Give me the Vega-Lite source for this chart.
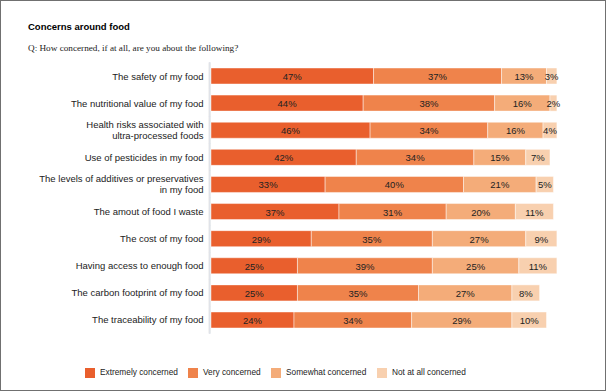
{
  "$schema": "https://vega.github.io/schema/vega-lite/v6.json",
  "width": 606,
  "height": 391,
  "autosize": {"type": "fit", "contains": "padding"},
  "padding": 0,
  "background": "white",
  "config": {
    "view": {"stroke": "#707070", "strokeWidth": 2},
    "font": "Liberation Sans"
  },
  "title": {
    "text": "Concerns around food",
    "subtitle": "Q: How concerned, if at all, are you about the following?",
    "anchor": "start",
    "frame": "group",
    "orient": "top",
    "offset": -53,
    "dx": 28,
    "font": "Liberation Sans",
    "fontSize": 9.5,
    "fontWeight": "bold",
    "color": "#000000",
    "subtitleFont": "Liberation Serif",
    "subtitleFontSize": 9.2,
    "subtitleColor": "#222222",
    "subtitlePadding": 12
  },
  "data": {
    "values": [
      {"label": "The safety of my food", "category": "Extremely concerned", "order": 1, "value": 0.47},
      {"label": "The safety of my food", "category": "Very concerned", "order": 2, "value": 0.37},
      {"label": "The safety of my food", "category": "Somewhat concerned", "order": 3, "value": 0.13},
      {"label": "The safety of my food", "category": "Not at all concerned", "order": 4, "value": 0.03},
      {"label": "The nutritional value of my food", "category": "Extremely concerned", "order": 1, "value": 0.44},
      {"label": "The nutritional value of my food", "category": "Very concerned", "order": 2, "value": 0.38},
      {"label": "The nutritional value of my food", "category": "Somewhat concerned", "order": 3, "value": 0.16},
      {"label": "The nutritional value of my food", "category": "Not at all concerned", "order": 4, "value": 0.02},
      {"label": "Health risks associated with ultra-processed foods", "category": "Extremely concerned", "order": 1, "value": 0.46},
      {"label": "Health risks associated with ultra-processed foods", "category": "Very concerned", "order": 2, "value": 0.34},
      {"label": "Health risks associated with ultra-processed foods", "category": "Somewhat concerned", "order": 3, "value": 0.16},
      {"label": "Health risks associated with ultra-processed foods", "category": "Not at all concerned", "order": 4, "value": 0.04},
      {"label": "Use of pesticides in my food", "category": "Extremely concerned", "order": 1, "value": 0.42},
      {"label": "Use of pesticides in my food", "category": "Very concerned", "order": 2, "value": 0.34},
      {"label": "Use of pesticides in my food", "category": "Somewhat concerned", "order": 3, "value": 0.15},
      {"label": "Use of pesticides in my food", "category": "Not at all concerned", "order": 4, "value": 0.07},
      {"label": "The levels of additives or preservatives in my food", "category": "Extremely concerned", "order": 1, "value": 0.33},
      {"label": "The levels of additives or preservatives in my food", "category": "Very concerned", "order": 2, "value": 0.40},
      {"label": "The levels of additives or preservatives in my food", "category": "Somewhat concerned", "order": 3, "value": 0.21},
      {"label": "The levels of additives or preservatives in my food", "category": "Not at all concerned", "order": 4, "value": 0.05},
      {"label": "The amout of food I waste", "category": "Extremely concerned", "order": 1, "value": 0.37},
      {"label": "The amout of food I waste", "category": "Very concerned", "order": 2, "value": 0.31},
      {"label": "The amout of food I waste", "category": "Somewhat concerned", "order": 3, "value": 0.20},
      {"label": "The amout of food I waste", "category": "Not at all concerned", "order": 4, "value": 0.11},
      {"label": "The cost of my food", "category": "Extremely concerned", "order": 1, "value": 0.29},
      {"label": "The cost of my food", "category": "Very concerned", "order": 2, "value": 0.35},
      {"label": "The cost of my food", "category": "Somewhat concerned", "order": 3, "value": 0.27},
      {"label": "The cost of my food", "category": "Not at all concerned", "order": 4, "value": 0.09},
      {"label": "Having access to enough food", "category": "Extremely concerned", "order": 1, "value": 0.25},
      {"label": "Having access to enough food", "category": "Very concerned", "order": 2, "value": 0.39},
      {"label": "Having access to enough food", "category": "Somewhat concerned", "order": 3, "value": 0.25},
      {"label": "Having access to enough food", "category": "Not at all concerned", "order": 4, "value": 0.11},
      {"label": "The carbon footprint of my food", "category": "Extremely concerned", "order": 1, "value": 0.25},
      {"label": "The carbon footprint of my food", "category": "Very concerned", "order": 2, "value": 0.35},
      {"label": "The carbon footprint of my food", "category": "Somewhat concerned", "order": 3, "value": 0.27},
      {"label": "The carbon footprint of my food", "category": "Not at all concerned", "order": 4, "value": 0.08},
      {"label": "The traceability of my food", "category": "Extremely concerned", "order": 1, "value": 0.24},
      {"label": "The traceability of my food", "category": "Very concerned", "order": 2, "value": 0.34},
      {"label": "The traceability of my food", "category": "Somewhat concerned", "order": 3, "value": 0.29},
      {"label": "The traceability of my food", "category": "Not at all concerned", "order": 4, "value": 0.10}
    ]
  },
  "encoding": {
    "y": {
      "field": "label",
      "type": "nominal",
      "sort": null,
      "scale": {"range": [62.45, 333.55], "paddingInner": 0.41, "paddingOuter": 0.205},
      "axis": {
        "title": null,
        "orient": "left",
        "offset": -211,
        "domain": false,
        "ticks": false,
        "grid": false,
        "labelPadding": 8,
        "labelFont": "Liberation Sans",
        "labelFontSize": 9.5,
        "labelColor": "#222222",
        "labelLimit": 0,
        "labelLineHeight": 11.5,
        "labelOffset": {"condition": {"test": "indexof(datum.value, 'ultra-processed') >= 0 || indexof(datum.value, 'additives') >= 0", "value": -5.5}, "value": 0.5},
        "labelExpr": "datum.value == 'Health risks associated with ultra-processed foods' ? ['Health risks associated with', 'ultra-processed foods'] : datum.value == 'The levels of additives or preservatives in my food' ? ['The levels of additives or preservatives', 'in my food'] : datum.value"
      }
    }
  },
  "layer": [
    {
      "mark": {"type": "tick", "color": "#dfe2e8", "thickness": 1.5, "size": 27.3},
      "encoding": {
        "x": {"datum": -0.004, "type": "quantitative", "scale": {"domain": [-0.61, 1.142], "nice": false, "zero": false}, "axis": null}
      }
    },
    {
      "mark": {"type": "bar", "stroke": "#ffffff", "strokeOpacity": 0.45, "strokeWidth": 1},
      "encoding": {
        "x": {"field": "value", "type": "quantitative", "stack": "zero", "axis": null},
        "order": {"field": "order", "type": "quantitative"},
        "color": {
          "field": "category",
          "type": "nominal",
          "scale": {
            "domain": ["Extremely concerned", "Very concerned", "Somewhat concerned", "Not at all concerned"],
            "range": ["#e95f2d", "#ef834b", "#f4ac79", "#f8d0af"]
          },
          "legend": {
            "title": null,
            "orient": "none",
            "direction": "horizontal",
            "legendX": 85,
            "legendY": 368,
            "symbolType": "square",
            "symbolSize": 100,
            "symbolStrokeWidth": 0,
            "symbolOpacity": 1,
            "labelFont": "Liberation Sans",
            "labelFontSize": 8.3,
            "labelColor": "#222222",
            "labelOffset": 5,
            "columnPadding": 10
          }
        }
      }
    },
    {
      "transform": [
        {"stack": "value", "groupby": ["label"], "sort": [{"field": "order", "order": "ascending"}], "as": ["v0", "v1"]},
        {"fold": ["v0", "v1"], "as": ["edge", "pos"]},
        {"aggregate": [{"op": "mean", "field": "pos", "as": "mid"}], "groupby": ["label", "category", "value"]}
      ],
      "mark": {"type": "text", "font": "Liberation Sans", "fontSize": 9.5, "color": "#222222", "baseline": "middle", "dy": 1},
      "encoding": {
        "x": {"field": "mid", "type": "quantitative"},
        "text": {"field": "value", "type": "quantitative", "format": ".0%"}
      }
    }
  ]
}
